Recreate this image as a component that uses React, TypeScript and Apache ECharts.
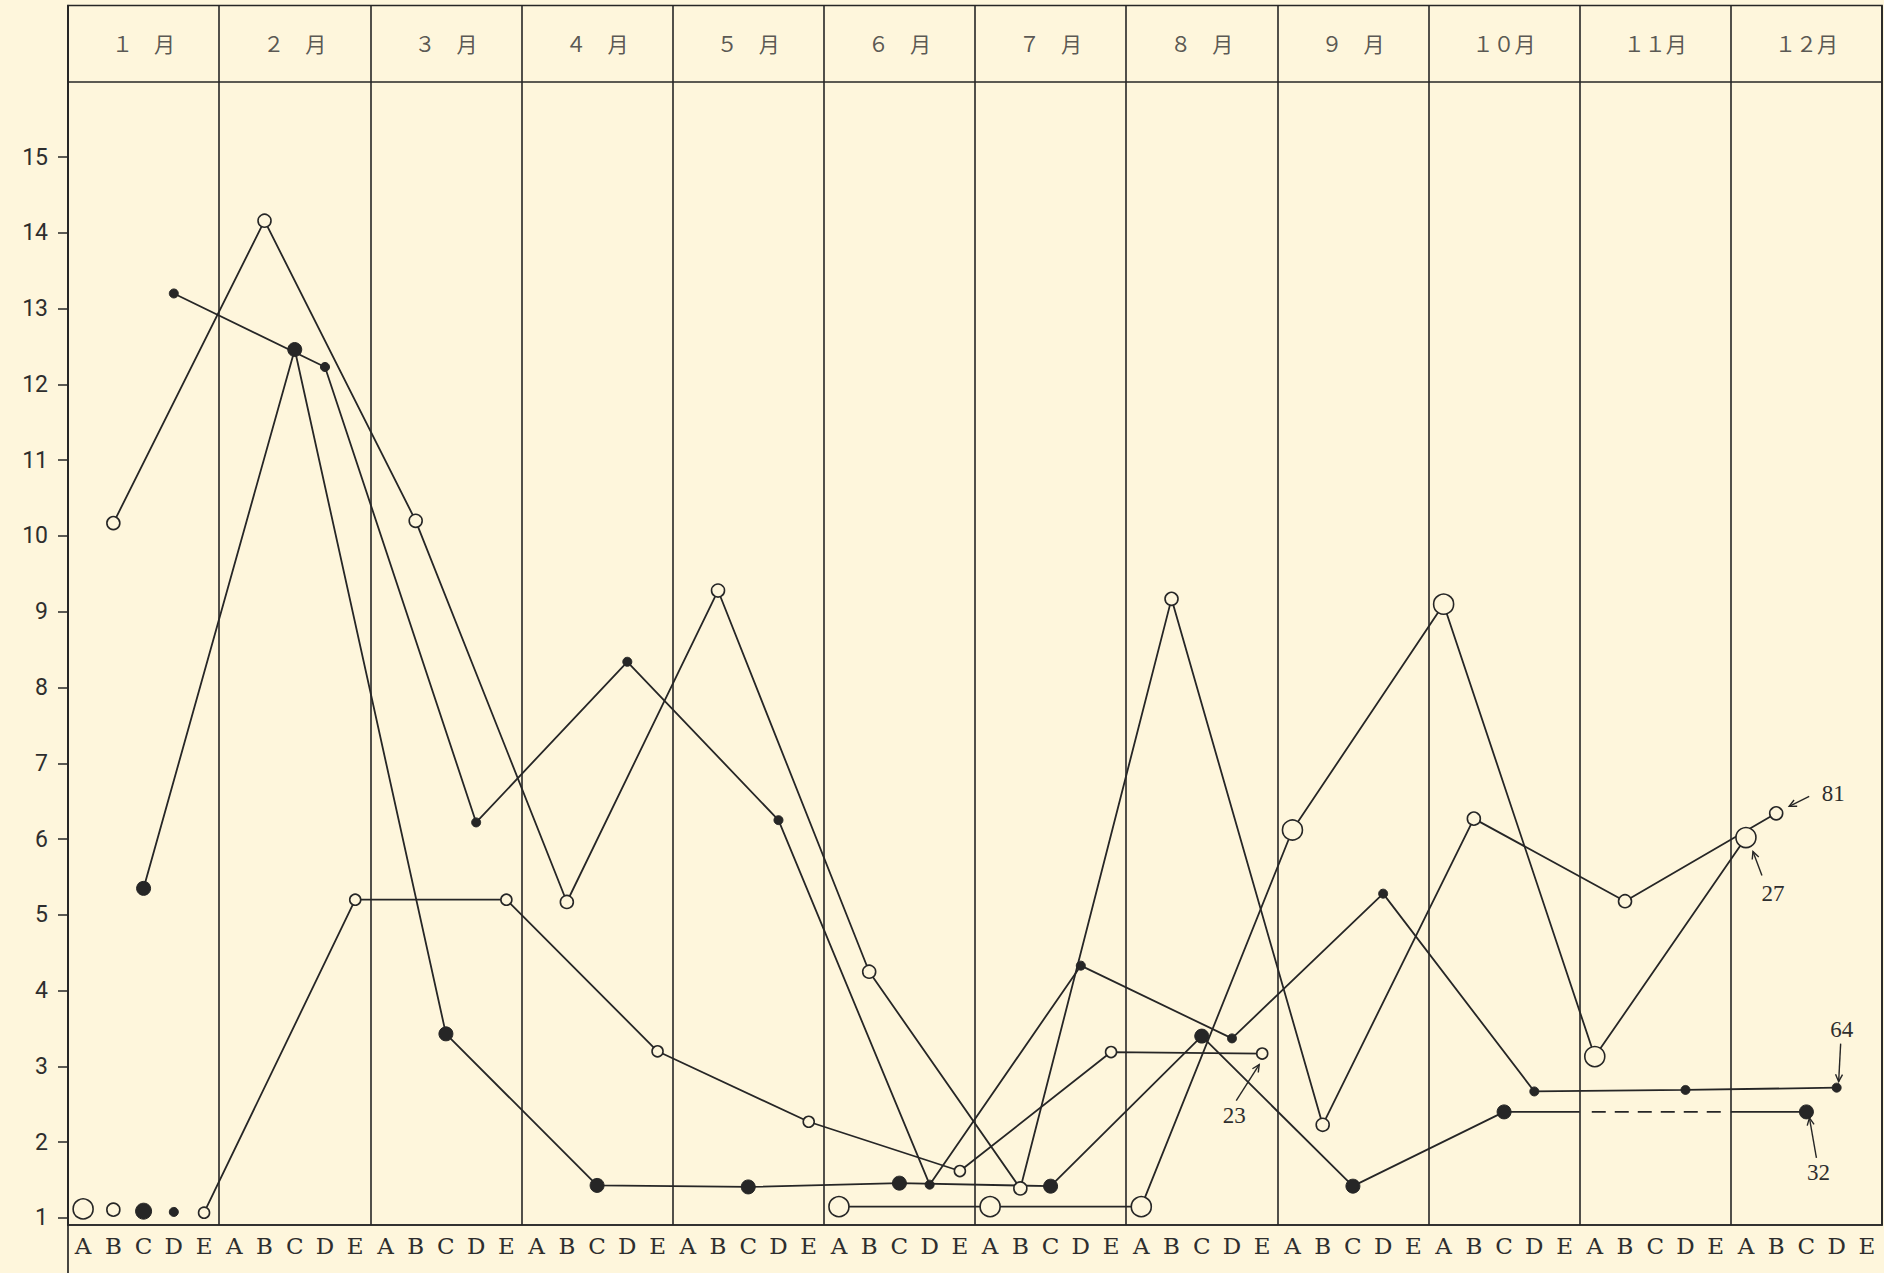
import React, { useEffect, useRef } from "react";
import * as echarts from "echarts";

const W = 1884;
const H = 1273;
const BG = "#FEF6DC";
const INK = "#262626";
const TXT = "#2e2e2e";

// ---- data ----
const monthLabels = ["１　月", "２　月", "３　月", "４　月", "５　月", "６　月", "７　月", "８　月", "９　月", "１０月", "１１月", "１２月"];
const slotLetters = ["A", "B", "C", "D", "E"];
const yTickValues = [1, 2, 3, 4, 5, 6, 7, 8, 9, 10, 11, 12, 13, 14, 15];

// one value per month, placed at the series' letter slot
const seriesA = [1.12, null, null, null, null, 1.15, 1.15, 1.15, 6.12, 9.1, 3.13, 6.02];
const seriesB = [10.17, 14.16, 10.2, 5.17, 9.28, 4.25, 1.39, 9.17, 2.23, 6.27, 5.18, 6.34];
const seriesC = [5.35, 12.46, 3.43, 1.43, 1.41, 1.46, 1.42, 3.4, 1.42, 2.4, null, 2.4];
const seriesD = [13.2, 12.23, 6.22, 8.34, 6.25, 1.44, 4.33, 3.37, 5.28, 2.67, 2.69, 2.72];
const seriesE = [1.07, 5.2, 5.2, 3.2, 2.27, 1.62, 3.19, 3.17, null, null, null, null];
// January baseline marks at slots B, C, D
const janBaseline = [1.11, 1.09, 1.08];

// annotation numbers: which series / month they point at
const noteTexts = ["81", "27", "23", "64", "32"];
const noteSeries = [1, 0, 4, 3, 2];
const noteMonths = [11, 11, 7, 11, 11];

// ---- styling (pixel offsets for annotation placement) ----
const noteStyle = [
  { lx: 57, ly: -20, fx: 33, fy: -17, tx: 13, ty: -7 },
  { lx: 27, ly: 56, fx: 16, fy: 38, tx: 7, ty: 14 },
  { lx: -28, ly: 62, fx: -26, fy: 47, tx: -3, ty: 11 },
  { lx: 5, ly: -58, fx: 4, fy: -44, tx: 2, ty: -6 },
  { lx: 12, ly: 61, fx: 10, fy: 46, tx: 3, ty: 6 },
];

const Y_MIN = 0.9076;
const Y_MAX = 17;

const pos = (m: number, l: number) => m * 5 + l + 0.5;
const toPts = (vals: (number | null)[], l: number) =>
  vals.map((v, m) => [pos(m, l), v == null ? "-" : v]);

const openStyle = { color: BG, borderColor: INK, borderWidth: 1.6, opacity: 1 };
const fillStyle = { color: INK, borderColor: INK, borderWidth: 1, opacity: 1 };

const allSeries = [seriesA, seriesB, seriesC, seriesD, seriesE];
const symbolSizes = [20, 13, 14, 9, 11];
const symbolStyles = [openStyle, openStyle, fillStyle, fillStyle, openStyle];

export default function App() {
  const ref = useRef<HTMLDivElement>(null);
  useEffect(() => {
    document.body.style.margin = "0";
    const chart = echarts.init(ref.current!, null, { renderer: "svg", width: W, height: H });

    const categories: string[] = [];
    for (let m = 0; m < 12; m++) for (let l = 0; l < 5; l++) categories.push(slotLetters[l]);

    const lineSeries = allSeries.map((vals, i) => ({
      type: "line",
      name: "S" + slotLetters[i],
      xAxisIndex: 1,
      yAxisIndex: 0,
      data: toPts(vals, i),
      symbol: "circle",
      symbolSize: symbolSizes[i],
      showAllSymbol: true,
      connectNulls: false,
      itemStyle: symbolStyles[i],
      lineStyle: { color: INK, width: 1.8 },
      z: 3 + (i === 0 || i === 1 || i === 4 ? 1 : 0),
    }));

    // C's November gap: solid to month boundary, dashed across November, solid after
    const gapIdx = seriesC.findIndex((v, m) => v == null && m > 0);
    const vBefore = seriesC[gapIdx - 1] as number;
    const vAfter = seriesC[gapIdx + 1] as number;
    const gapSolid1 = {
      type: "line", xAxisIndex: 1, yAxisIndex: 0, symbol: "none", z: 2,
      lineStyle: { color: INK, width: 1.9 },
      data: [[pos(gapIdx - 1, 2), vBefore], [gapIdx * 5, vBefore]],
    };
    const gapDashed = {
      type: "line", xAxisIndex: 1, yAxisIndex: 0, symbol: "none", z: 2,
      lineStyle: { color: INK, width: 1.9, type: [14, 9] },
      data: [[gapIdx * 5 + 0.4, vBefore], [(gapIdx + 1) * 5 - 0.3, vAfter]],
    };
    const gapSolid2 = {
      type: "line", xAxisIndex: 1, yAxisIndex: 0, symbol: "none", z: 2,
      lineStyle: { color: INK, width: 1.9 },
      data: [[(gapIdx + 1) * 5, vAfter], [pos(gapIdx + 1, 2), vAfter]],
    };

    const baseline = {
      type: "scatter", xAxisIndex: 1, yAxisIndex: 0, z: 5,
      itemStyle: { opacity: 1 },
      data: janBaseline.map((v, k) => ({
        value: [pos(0, k + 1), v],
        symbol: "circle",
        symbolSize: symbolSizes[k + 1] + (k === 1 ? 2 : 0),
        itemStyle: symbolStyles[k + 1],
      })),
    };

    const header = {
      type: "scatter", xAxisIndex: 1, yAxisIndex: 0, symbolSize: 0, silent: true,
      data: monthLabels.map((n, m) => ({ value: [m * 5 + 2.5, 16.5], name: n })),
      label: {
        show: true, position: "inside", formatter: "{b}",
        fontFamily: "Noto Sans CJK JP", fontSize: 21, color: TXT,
      },
      markLine: {
        silent: true, symbol: ["none", "none"], label: { show: false },
        lineStyle: { color: INK, width: 1.7, type: "solid" },
        data: [{ yAxis: 16 }],
      },
    };

    const option: any = {
      animation: false,
      backgroundColor: BG,
      grid: {
        left: 68, right: 2, top: 5.5, bottom: H - 1225,
        show: true, borderColor: INK, borderWidth: 1.7, backgroundColor: "transparent",
        containLabel: false,
      },
      xAxis: [
        {
          type: "category", data: categories, position: "bottom", boundaryGap: true,
          axisLine: { show: true, lineStyle: { color: INK, width: 1.7 } },
          axisTick: { show: false },
          splitLine: { show: false },
          axisLabel: { interval: 0, fontFamily: "DejaVu Serif", fontSize: 23, color: TXT, margin: 9 },
        },
        {
          type: "value", min: 0, max: 60, interval: 5, position: "bottom",
          axisLine: { show: false }, axisTick: { show: false }, axisLabel: { show: false },
          splitLine: { show: true, lineStyle: { color: INK, width: 1.6 } },
        },
      ],
      yAxis: [
        {
          type: "value", min: Y_MIN, max: Y_MAX,
          axisLine: { show: true, lineStyle: { color: INK, width: 1.7 } },
          axisTick: { show: true, inside: false, length: 10, customValues: yTickValues, lineStyle: { color: INK, width: 1.5 } },
          axisLabel: { show: true, customValues: yTickValues, fontFamily: "Roboto", fontSize: 23, color: TXT, margin: 20 },
          splitLine: { show: false },
        },
      ],
      series: [header, gapSolid1, gapDashed, gapSolid2, ...lineSeries, baseline],
    };
    chart.setOption(option);

    const firstLineIdx = 4;
    const px = (x: number, y: number) => chart.convertToPixel({ seriesIndex: firstLineIdx }, [x, y]) as number[];
    const g: any[] = [];
    // left border extension to the bottom of the sheet
    const bl = px(0, Y_MIN);
    g.push({ type: "line", shape: { x1: bl[0], y1: bl[1], x2: bl[0], y2: H }, style: { stroke: INK, lineWidth: 1.7 }, z: 10 });

    noteTexts.forEach((t, i) => {
      const s = noteSeries[i];
      const m = noteMonths[i];
      const v = allSeries[s][m] as number;
      const p = px(pos(m, s), v);
      const st = noteStyle[i];
      g.push({
        type: "text", x: p[0] + st.lx, y: p[1] + st.ly, z: 10,
        style: { text: t, fontFamily: "Liberation Serif", fontSize: 23, fill: TXT, align: "center", verticalAlign: "middle" },
      });
      const x0 = p[0] + st.fx, y0 = p[1] + st.fy, x1 = p[0] + st.tx, y1 = p[1] + st.ty;
      const ang = Math.atan2(y1 - y0, x1 - x0);
      const L = 8, a = 0.45;
      g.push({ type: "line", z: 10, shape: { x1: x0, y1: y0, x2: x1, y2: y1 }, style: { stroke: INK, lineWidth: 1.4 } });
      g.push({
        type: "polyline", z: 10,
        shape: {
          points: [
            [x1 - L * Math.cos(ang - a), y1 - L * Math.sin(ang - a)],
            [x1, y1],
            [x1 - L * Math.cos(ang + a), y1 - L * Math.sin(ang + a)],
          ],
        },
        style: { stroke: INK, lineWidth: 1.4, fill: null },
      });
    });
    chart.setOption({ graphic: g });

    return () => chart.dispose();
  }, []);
  return <div ref={ref} style={{ position: "absolute", left: 0, top: 0, width: W, height: H, background: BG }} />;
}
